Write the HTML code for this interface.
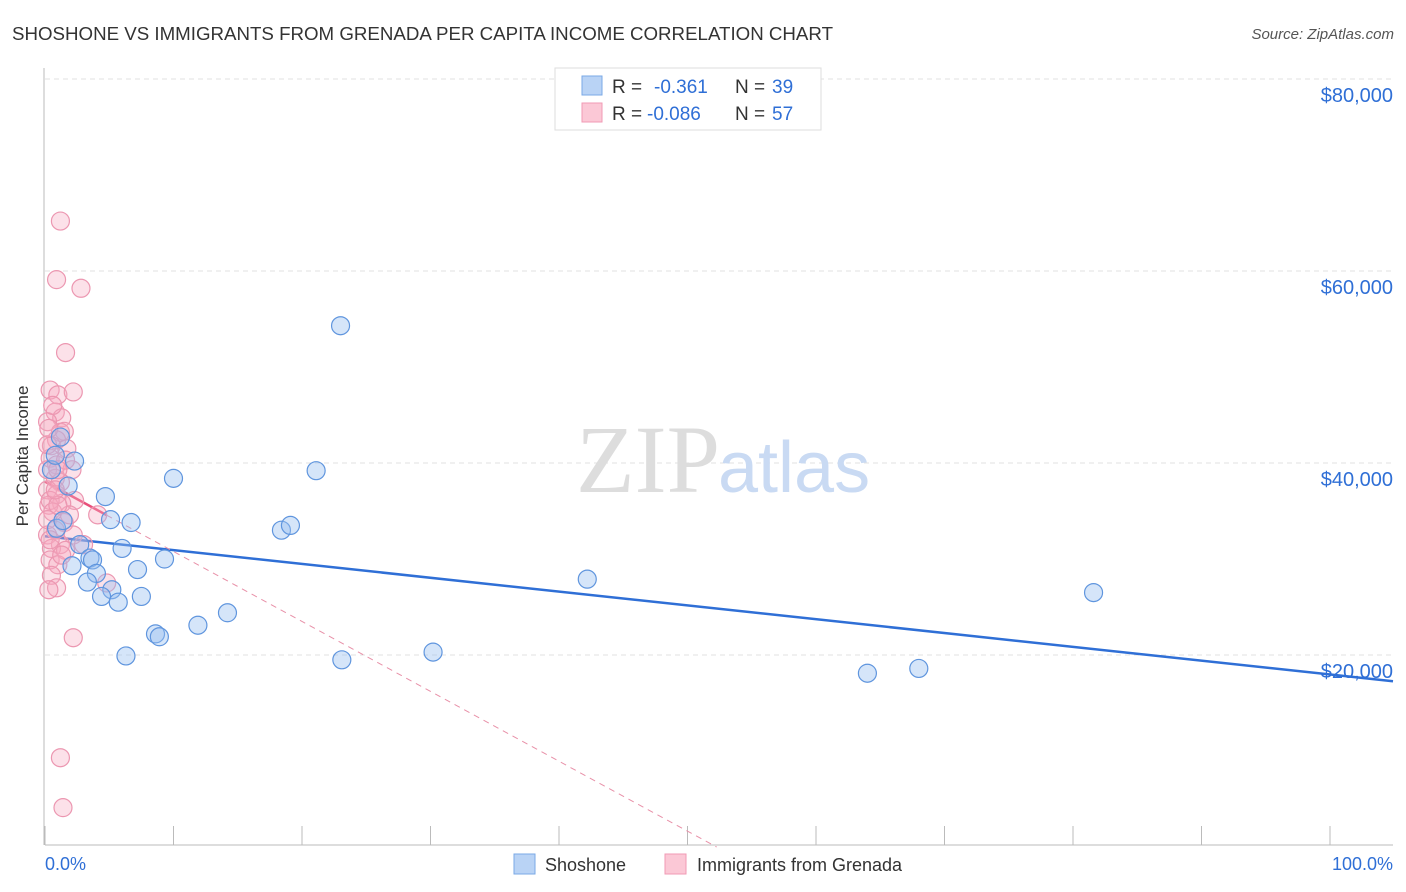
<!DOCTYPE html>
<html><head><meta charset="utf-8"><style>
body{margin:0;background:#fff;font-family:"Liberation Sans",sans-serif;}
svg{display:block}
</style></head><body>
<svg id="chart" width="1406" height="892">
<text x="12" y="40" font-size="18.5" fill="#333" textLength="821" lengthAdjust="spacingAndGlyphs">SHOSHONE VS IMMIGRANTS FROM GRENADA PER CAPITA INCOME CORRELATION CHART</text>
<text x="1394" y="39" font-size="15" fill="#555" font-style="italic" text-anchor="end">Source: ZipAtlas.com</text>
<text x="28" y="456" font-size="17" fill="#333" text-anchor="middle" transform="rotate(-90 28 456)">Per Capita Income</text>
<g id="grid"></g>
<text x="720" y="492" font-size="96" fill="#ddd" text-anchor="end" font-family="Liberation Serif,serif">ZIP</text>
<text x="718" y="492" font-size="72" fill="#c9daf3">atlas</text>
<g id="lines"></g>
<g id="points"></g>
<g>
<rect x="555" y="68" width="266" height="62" fill="#fff" stroke="#ddd"/>
<rect x="582" y="76" width="20" height="19" fill="#b9d3f5" stroke="#7aa8e6"/>
<rect x="582" y="103" width="20" height="19" fill="#fbc8d6" stroke="#f09ab4"/>
<text x="612" y="93" font-size="19" fill="#333">R =</text>
<text x="654" y="93" font-size="19" fill="#2f6fd6">-0.361</text>
<text x="735" y="93" font-size="19" fill="#333">N =</text>
<text x="772" y="93" font-size="19" fill="#2f6fd6">39</text>
<text x="612" y="120" font-size="19" fill="#333">R =</text>
<text x="647" y="120" font-size="19" fill="#2f6fd6">-0.086</text>
<text x="735" y="120" font-size="19" fill="#333">N =</text>
<text x="772" y="120" font-size="19" fill="#2f6fd6">57</text>
</g>
<text x="45" y="870" font-size="18" fill="#2f6fd6">0.0%</text>
<text x="1393" y="870" font-size="18" fill="#2f6fd6" text-anchor="end">100.0%</text>
<rect x="514" y="854" width="21" height="20" fill="#b9d3f5" stroke="#7aa8e6"/>
<text x="545" y="871" font-size="18" fill="#333">Shoshone</text>
<rect x="665" y="854" width="21" height="20" fill="#fbc8d6" stroke="#f09ab4"/>
<text x="697" y="871" font-size="18" fill="#333">Immigrants from Grenada</text>
</svg>
<script>
const yTicks=[20000,40000,60000,80000];
const yTickLabels=["$20,000","$40,000","$60,000","$80,000"];
const xTicks=[0,10,20,30,40,50,60,70,80,90,100];
const shoshoneX=[23.0,21.1,10.0,2.3,1.2,1.8,4.7,5.1,6.7,0.9,1.4,2.7,6.0,3.5,3.7,2.1,9.3,7.2,4.0,3.3,5.2,4.4,7.5,5.7,18.4,19.1,42.2,81.6,14.2,11.9,8.6,8.9,6.3,23.1,30.2,64.0,68.0,0.5,0.8];
const shoshoneY=[54300,39200,38400,40200,42700,37600,36500,34100,33800,33200,34000,31500,31100,30100,29900,29300,30000,28900,28500,27600,26800,26100,26100,25500,33000,33500,27900,26500,24400,23100,22200,21900,19900,19500,20300,18100,18600,39300,40800];
const grenadaX=[1.2,0.9,2.8,1.6,0.4,1.0,2.2,0.8,1.3,0.2,1.2,1.5,0.9,0.5,1.7,0.4,0.9,2.1,0.2,0.8,1.2,0.2,0.9,2.3,1.3,0.3,4.1,1.5,0.8,0.2,2.2,1.2,3.0,0.5,1.6,0.4,1.0,0.5,4.8,0.9,0.3,2.2,1.2,1.4,0.4,0.6,1.9,0.2,1.0,0.4,1.3,0.2,1.6,0.6,0.3,1.0,0.8];
const grenadaY=[65200,59100,58200,51500,47600,47100,47400,45300,44700,44300,43200,43300,42400,41800,41500,40500,39800,39300,39300,38400,38000,37200,36700,36100,35800,35600,34600,33800,33000,32500,32500,31500,31500,31100,30900,29900,29400,28300,27500,27000,26800,21800,9300,4100,36100,34900,34600,34100,35600,32000,30400,41900,40300,46000,43600,39300,37200];
const NS='http://www.w3.org/2000/svg';
const X=p=>45+p*12.85, Y=v=>847-v*0.0096;
function mk(t,a,parent){const e=document.createElementNS(NS,t);for(const k in a)e.setAttribute(k,a[k]);parent.appendChild(e);return e;}
const grid=document.getElementById('grid');
yTicks.forEach((v,i)=>{
 const l=mk('line',{x1:45,x2:1393,y1:Y(v),y2:Y(v),stroke:'#e2e2e2','stroke-dasharray':'5,4'},grid);
 
 
 const t=mk('text',{x:1393,y:Y(v)+23,'font-size':20,fill:'#2f6fd6','text-anchor':'end'},grid);
 t.textContent=yTickLabels[i];
 
 
});
const ax=mk('line',{x1:45,x2:1393,y1:845,y2:845,stroke:'#bbb'},grid);


const ay=mk('line',{x1:44,x2:44,y1:68,y2:845,stroke:'#bbb'},grid);


xTicks.forEach(p=>{
 const t=mk('line',{x1:X(p),x2:X(p),y1:826,y2:845,stroke:'#bbb'},grid);
 
 
});
function fit(xs,ys){const n=xs.length;let mx=0,my=0;for(let i=0;i<n;i++){mx+=xs[i];my+=ys[i];}mx/=n;my/=n;let sxy=0,sxx=0;for(let i=0;i<n;i++){sxy+=(xs[i]-mx)*(ys[i]-my);sxx+=(xs[i]-mx)**2;}const b=sxy/sxx;return [my-b*mx,b];}
const lines=document.getElementById('lines');
const [ba,bb]=fit(shoshoneX,shoshoneY);
const bl=mk('line',{x1:X(0),y1:Y(ba),x2:1393,y2:Y(ba+bb*((1393-45)/12.85)),stroke:'#2f6fd6','stroke-width':2.5},lines);


const [pa,pb]=fit(grenadaX,grenadaY);
const pmax=Math.max(...grenadaX);
const pz=Math.min(100,-pa/pb);
const pd=mk('line',{x1:X(pmax),y1:Y(pa+pb*pmax),x2:X(pz),y2:Y(pa+pb*pz),stroke:'#e890a8','stroke-width':1,'stroke-dasharray':'6,5'},lines);


const ps=mk('line',{x1:X(0),y1:Y(pa),x2:X(pmax),y2:Y(pa+pb*pmax),stroke:'#e8507a','stroke-width':2.5},lines);


const pts=document.getElementById('points');
grenadaX.forEach((x,i)=>{
 const c=mk('circle',{cx:X(x),cy:Y(grenadaY[i]),r:9,fill:'rgba(246,168,192,0.35)',stroke:'#ec97b1','stroke-width':1.2},pts);
 
 
});
shoshoneX.forEach((x,i)=>{
 const c=mk('circle',{cx:X(x),cy:Y(shoshoneY[i]),r:9,fill:'rgba(150,190,240,0.4)',stroke:'#5f95de','stroke-width':1.2},pts);
 
 
});
</script>
</body></html>
